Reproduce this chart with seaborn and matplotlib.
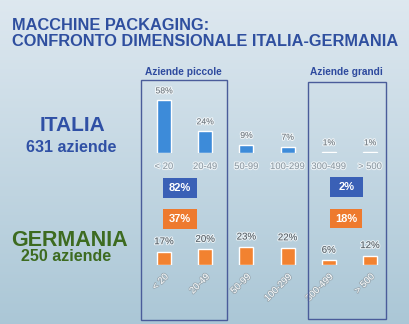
import numpy as np
import matplotlib
matplotlib.use("Agg")
import matplotlib.pyplot as plt
import matplotlib.patheffects as pe
from matplotlib.patches import Rectangle
import seaborn as sns
import pandas as pd

# ---- data ----
categories = ["< 20", "20-49", "50-99", "100-299", "300-499", "> 500"]
italia_values = [58, 24, 9, 7, 1, 1]
germania_values = [17, 20, 23, 22, 6, 12]
italia_summary = ["82%", "2%"]
germania_summary = ["37%", "18%"]
title_lines = ["MACCHINE PACKAGING:", "CONFRONTO DIMENSIONALE ITALIA-GERMANIA"]
group_labels = ["Aziende piccole", "Aziende grandi"]

sns.set_theme(style="white")
plt.rcParams['font.family'] = ['Liberation Sans', 'DejaVu Sans']

W, H = 410, 324
fig = plt.figure(figsize=(W / 100, H / 100), dpi=100)

def fx(x):
    return x / W

def fy(y):
    return 1 - y / H

# background gradient
bg = fig.add_axes([0, 0, 1, 1], zorder=0)
top = np.array([0.87, 0.91, 0.94])
bot = np.array([0.67, 0.78, 0.84])
t = np.linspace(0, 1, 256)[:, None]
grad = top[None, :] * (1 - t) + bot[None, :] * t
bg.imshow(grad[:, None, :], aspect="auto", extent=[0, 1, 0, 1])
bg.set_axis_off()

# title
title_color = "#2F4F9F"
fig.text(fx(12), fy(30), title_lines[0], fontsize=11.8, fontweight="bold",
         color=title_color, ha="left", va="baseline", zorder=5)
fig.text(fx(12), fy(45.5), title_lines[1], fontsize=11.8, fontweight="bold",
         color=title_color, ha="left", va="baseline", zorder=5)

# group labels and boxes
fig.text(fx(183), fy(72), group_labels[0], fontsize=7.3, fontweight="bold",
         color="#2E4A9E", ha="center", va="center", zorder=5)
fig.text(fx(346), fy(72), group_labels[1], fontsize=7.3, fontweight="bold",
         color="#2E4A9E", ha="center", va="center", zorder=5)
for (x0, y0, x1, y1) in [(141, 80, 227, 320), (308, 82, 386, 319)]:
    fig.patches.append(Rectangle((fx(x0), fy(y1)), fx(x1) - fx(x0), fy(y0) - fy(y1),
                                 transform=fig.transFigure, fill=False,
                                 edgecolor="#4A5C9A", lw=1.0, zorder=4))

# country labels
fig.text(fx(72.5), fy(125.5), "ITALIA", fontsize=15, fontweight="bold",
         color="#2F50A5", ha="center", va="center", zorder=5)
fig.text(fx(71.5), fy(148), "631 aziende", fontsize=11.5, fontweight="bold",
         color="#2F50A5", ha="center", va="center", zorder=5)
fig.text(fx(69.5), fy(240), "GERMANIA", fontsize=15.5, fontweight="bold",
         color="#3D6B20", ha="center", va="center", zorder=5)
fig.text(fx(66), fy(256.5), "250 aziende", fontsize=11.5, fontweight="bold",
         color="#3D6B20", ha="center", va="center", zorder=5)

# bar axes
spacing = 41.2
left_px = 164 - spacing / 2
width_px = spacing * 6

def make_ax(bottom_px, ymax, px_per_unit):
    h = ymax * px_per_unit
    ax = fig.add_axes([fx(left_px), fy(bottom_px), width_px / W, h / H], zorder=3)
    ax.set_facecolor("none")
    for s in ax.spines.values():
        s.set_visible(False)
    return ax

white_glow = [pe.withStroke(linewidth=1.5, foreground=(1, 1, 1, 0.7))]

# Italia
ax_it = make_ax(153, 70, 0.91)
df_it = pd.DataFrame({"cat": categories, "val": italia_values})
sns.barplot(data=df_it, x="cat", y="val", ax=ax_it, color="#3D8BD9",
            saturation=1, width=0.34, order=categories)
ax_it.set_xlim(-0.5, 5.5)
ax_it.set_ylim(0, 70)
ax_it.set_yticks([])
ax_it.set_xlabel("")
ax_it.set_ylabel("")
ax_it.tick_params(axis="x", length=0, pad=6.5, labelsize=6.8, labelcolor="#8A98A2")
labs = ax_it.bar_label(ax_it.containers[0], labels=[f"{v}%" for v in italia_values],
                       padding=3.5, fontsize=6.2, color="#6A747C")
for l in labs:
    l.set_path_effects(white_glow)
for l in ax_it.get_xticklabels():
    l.set_path_effects(white_glow)

# Germania
ax_de = make_ax(265, 40, 0.78)
df_de = pd.DataFrame({"cat": categories, "val": germania_values})
sns.barplot(data=df_de, x="cat", y="val", ax=ax_de, color="#F28230",
            saturation=1, width=0.34, order=categories)
ax_de.set_xlim(-0.5, 5.5)
ax_de.set_ylim(0, 40)
ax_de.set_yticks([])
ax_de.set_xlabel("")
ax_de.set_ylabel("")
ax_de.tick_params(axis="x", length=0, pad=5, labelsize=6.8, labelcolor="white")
for l in ax_de.get_xticklabels():
    l.set_rotation(45)
    l.set_ha("right")
    l.set_rotation_mode("anchor")
    l.set_path_effects([pe.withStroke(linewidth=1.2, foreground="#9AA9B2")])
labs = ax_de.bar_label(ax_de.containers[0], labels=[f"{v}%" for v in germania_values],
                       padding=4, fontsize=7, color="#4F5A62")
for l in labs:
    l.set_path_effects(white_glow)

# summary boxes
def summary_box(x0, y0, x1, y1, txt, col):
    fig.patches.append(Rectangle((fx(x0), fy(y1)), fx(x1) - fx(x0), fy(y0) - fy(y1),
                                 transform=fig.transFigure, facecolor=col,
                                 edgecolor="none", zorder=4))
    fig.text(fx((x0 + x1) / 2), fy((y0 + y1) / 2), txt, fontsize=8, fontweight="bold",
             color="white", ha="center", va="center", zorder=6)

summary_box(163, 178, 197, 198, italia_summary[0], "#3A60B6")
summary_box(330, 177, 363, 197, italia_summary[1], "#3A60B6")
summary_box(163, 209, 197, 229, germania_summary[0], "#EE7A2E")
summary_box(330, 209, 362, 228, germania_summary[1], "#EE7A2E")

fig.savefig("out.png", dpi=100)
